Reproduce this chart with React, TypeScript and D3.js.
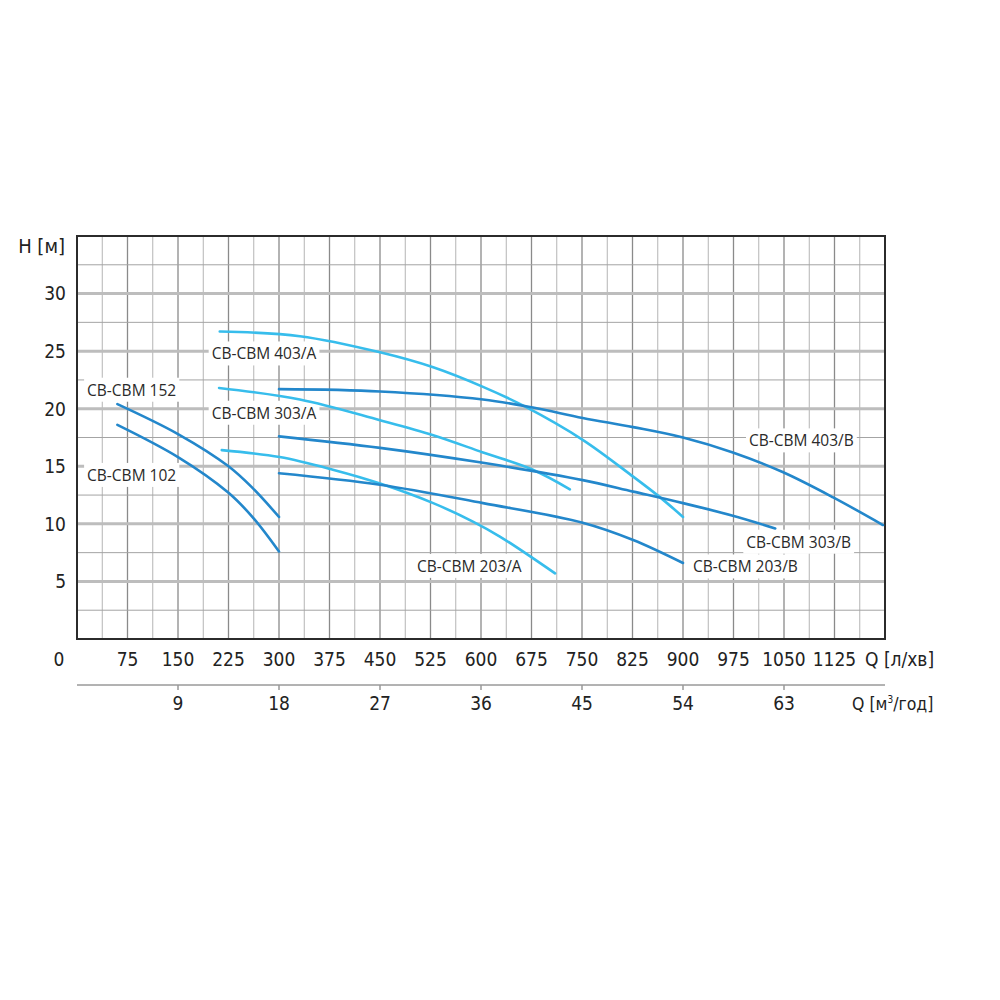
import React, { useEffect, useRef } from 'react';
import * as d3 from 'd3';

// flow in l/min, head in m
const cbm152: [number, number][] = [[60, 20.4], [150, 17.8], [225, 15.0], [261, 13.1], [300, 10.6]];
const cbm102: [number, number][] = [[60, 18.6], [150, 15.8], [225, 12.7], [262, 10.5], [300, 7.6]];
const cbm403A: [number, number][] = [[212, 26.7], [331, 26.3], [450, 24.9], [529, 23.6], [603, 21.9], [665, 20.2], [751, 17.3], [826, 14.1], [866, 12.3], [900, 10.6]];
const cbm303A: [number, number][] = [[211, 21.8], [331, 20.8], [450, 19.0], [529, 17.7], [603, 16.2], [677, 14.7], [732, 13.0]];
const cbm203A: [number, number][] = [[215, 16.4], [301, 15.8], [380, 14.7], [450, 13.5], [529, 11.8], [588, 10.2], [628, 8.9], [710, 5.7]];
const cbm403B: [number, number][] = [[300, 21.7], [450, 21.5], [603, 20.8], [677, 20.1], [751, 19.2], [826, 18.4], [900, 17.5], [974, 16.2], [1048, 14.5], [1123, 12.3], [1197, 9.9]];
const cbm303B: [number, number][] = [[300, 17.6], [450, 16.6], [603, 15.3], [751, 13.8], [826, 12.8], [900, 11.8], [974, 10.7], [1037, 9.6]];
const cbm203B: [number, number][] = [[300, 14.4], [450, 13.4], [603, 11.8], [751, 10.1], [826, 8.6], [900, 6.6]];

const curves = [
  { name: 'CB-CBM 152', pts: cbm152, tone: 'dark', lq: 15, lh: 21.6 },
  { name: 'CB-CBM 102', pts: cbm102, tone: 'dark', lq: 15, lh: 14.2 },
  { name: 'CB-CBM 403/A', pts: cbm403A, tone: 'light', lq: 200, lh: 24.75 },
  { name: 'CB-CBM 303/A', pts: cbm303A, tone: 'light', lq: 200, lh: 19.6 },
  { name: 'CB-CBM 203/A', pts: cbm203A, tone: 'light', lq: 505, lh: 6.3 },
  { name: 'CB-CBM 403/B', pts: cbm403B, tone: 'dark', lq: 998, lh: 17.2 },
  { name: 'CB-CBM 303/B', pts: cbm303B, tone: 'dark', lq: 994, lh: 8.4 },
  { name: 'CB-CBM 203/B', pts: cbm203B, tone: 'dark', lq: 915, lh: 6.25 },
];

const yTicks = [5, 10, 15, 20, 25, 30];
const qTicks = [75, 150, 225, 300, 375, 450, 525, 600, 675, 750, 825, 900, 975, 1050, 1125];
const m3Ticks = [9, 18, 27, 36, 45, 54, 63];

const App: React.FC = () => {
  const svgRef = useRef<SVGSVGElement>(null);

  useEffect(() => {
    if (!svgRef.current) return;
    const svg = d3.select(svgRef.current);
    svg.selectAll('*').remove();

    const left = 77, right = 885, top = 236, bottom = 639;
    const x = d3.scaleLinear().domain([0, 1200]).range([left, right]);
    const y = d3.scaleLinear().domain([0, 35]).range([bottom, top]);
    const x2 = d3.scaleLinear().domain([0, 72]).range([left, right]);

    const labelFont = "'Open Sans', 'Noto Sans', sans-serif";
    const numFont = "'Liberation Sans Narrow', 'DejaVu Sans Condensed', sans-serif";

    svg.append('rect').attr('width', 1000).attr('height', 1000).attr('fill', '#fff');

    // grid
    const grid = svg.append('g');
    d3.range(1, 32).map(i => i * 37.5).forEach(v => {
      const major = v % 75 === 0;
      grid.append('line')
        .attr('x1', x(v)).attr('x2', x(v)).attr('y1', top).attr('y2', bottom)
        .attr('stroke', major ? '#8a8a8a' : '#b4b4b4')
        .attr('stroke-width', major ? 1.3 : 1);
    });
    d3.range(1, 14).map(i => i * 2.5).forEach(v => {
      const major = v % 5 === 0;
      grid.append('line')
        .attr('x1', left).attr('x2', right).attr('y1', y(v)).attr('y2', y(v))
        .attr('stroke', major ? '#bdbdbd' : '#a4a4a4')
        .attr('stroke-width', major ? 3 : 1);
    });

    // frame
    svg.append('rect')
      .attr('x', left).attr('y', top).attr('width', right - left).attr('height', bottom - top)
      .attr('fill', 'none').attr('stroke', '#2b2b2b').attr('stroke-width', 2);

    // curve labels with white boxes
    const labels = svg.append('g');
    curves.forEach(c => {
      const t = labels.append('text')
        .attr('x', x(c.lq)).attr('y', y(c.lh)).attr('dy', '0.35em')
        .attr('font-family', labelFont).attr('font-size', 15.5)
        .attr('fill', '#2a2a2a').text(c.name);
      const bb = (t.node() as SVGTextElement).getBBox();
      labels.insert('rect', () => t.node() as any)
        .attr('x', bb.x - 3).attr('y', bb.y - 1)
        .attr('width', bb.width + 6).attr('height', bb.height + 2)
        .attr('fill', '#fff');
    });

    // curves
    const line = d3.line<[number, number]>()
      .x(d => x(d[0])).y(d => y(d[1]))
      .curve(d3.curveCatmullRom.alpha(0.5));
    curves.forEach(c => {
      svg.append('path')
        .attr('d', line(c.pts) as string)
        .attr('fill', 'none')
        .attr('stroke', c.tone === 'dark' ? '#2387cb' : '#37bdec')
        .attr('stroke-width', 2.6)
        .attr('stroke-linecap', 'round');
    });

    // y axis labels
    yTicks.forEach(v => {
      svg.append('text')
        .attr('x', 66).attr('y', y(v)).attr('dy', '0.36em')
        .attr('text-anchor', 'end')
        .attr('font-family', numFont).attr('font-size', 19).attr('fill', '#222')
        .text(v);
    });
    svg.append('text')
      .attr('x', 65).attr('y', 253).attr('text-anchor', 'end')
      .attr('font-family', numFont).attr('font-size', 20).attr('fill', '#222')
      .text('H [м]');

    // l/min axis labels
    svg.append('text')
      .attr('x', 59).attr('y', 659).attr('dy', '0.36em').attr('text-anchor', 'middle')
      .attr('font-family', numFont).attr('font-size', 19).attr('fill', '#222').text('0');
    qTicks.forEach(v => {
      svg.append('text')
        .attr('x', x(v)).attr('y', 659).attr('dy', '0.36em').attr('text-anchor', 'middle')
        .attr('font-family', numFont).attr('font-size', 19).attr('fill', '#222')
        .text(v);
    });
    svg.append('text')
      .attr('x', 865).attr('y', 659).attr('dy', '0.36em')
      .attr('font-family', numFont).attr('font-size', 19).attr('fill', '#222')
      .text('Q [л/хв]');

    // m3/h axis
    svg.append('line')
      .attr('x1', left).attr('x2', right).attr('y1', 685).attr('y2', 685)
      .attr('stroke', '#666').attr('stroke-width', 1);
    m3Ticks.forEach(v => {
      svg.append('line')
        .attr('x1', x2(v)).attr('x2', x2(v)).attr('y1', 685).attr('y2', 690)
        .attr('stroke', '#999').attr('stroke-width', 1.5);
      svg.append('text')
        .attr('x', x2(v)).attr('y', 703).attr('dy', '0.36em').attr('text-anchor', 'middle')
        .attr('font-family', numFont).attr('font-size', 19).attr('fill', '#222')
        .text(v);
    });
    const q2 = svg.append('text')
      .attr('x', 852).attr('y', 710)
      .attr('font-family', numFont).attr('font-size', 17.5).attr('fill', '#222');
    q2.append('tspan').text('Q [м');
    q2.append('tspan').attr('font-size', 10).attr('dy', -7).text('3');
    q2.append('tspan').attr('dy', 7).text('/год]');
  }, []);

  return (
    <div style={{ position: 'absolute', left: 0, top: 0 }}>
      <svg ref={svgRef} width={1000} height={1000} viewBox="0 0 1000 1000" style={{ display: 'block' }} />
    </div>
  );
};

export default App;
